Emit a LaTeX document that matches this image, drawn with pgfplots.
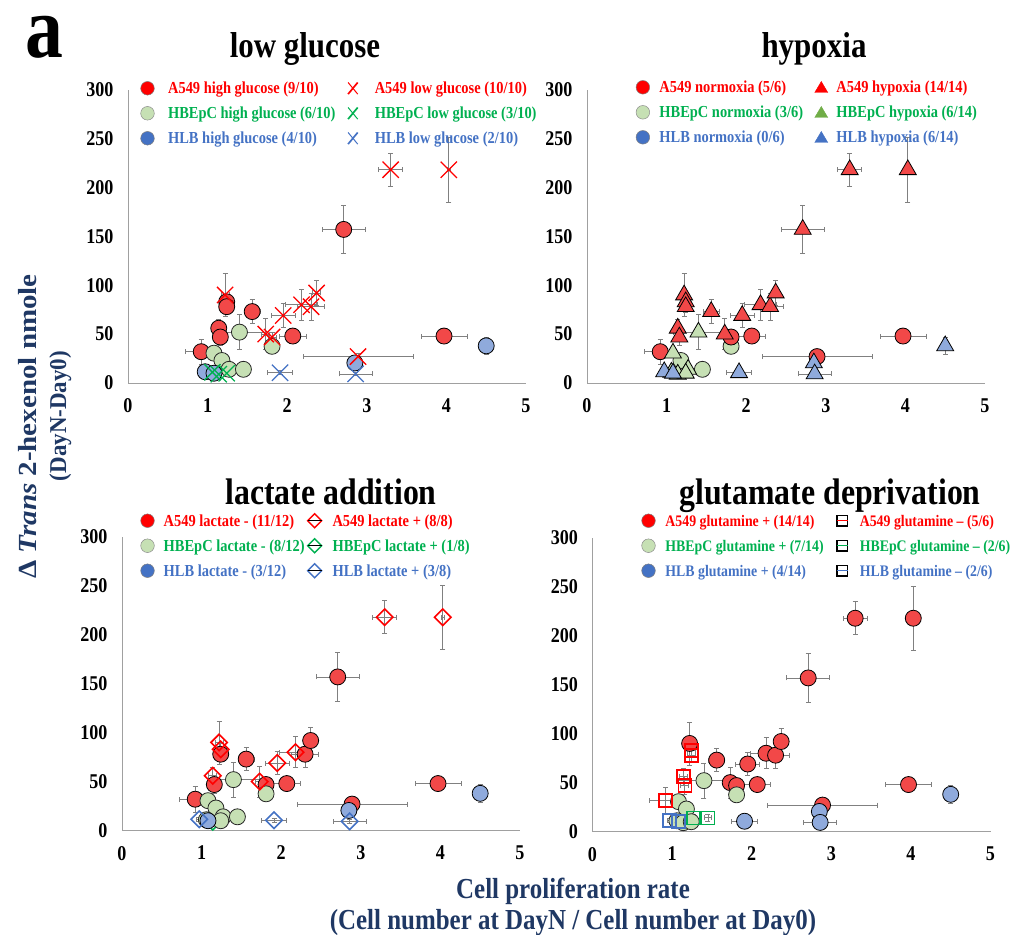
\documentclass[border=0pt]{standalone}
\usepackage{fontspec}
\setmainfont{Liberation Serif}[FakeStretch=0.86]
\newfontfamily\plainserif{Liberation Serif}
\usepackage{pgfplots}
\pgfplotsset{compat=1.18}
\definecolor{redT}{HTML}{FF0000}
\definecolor{greenT}{HTML}{00B050}
\definecolor{blueT}{HTML}{4472C4}
\definecolor{redF}{HTML}{F24848}
\definecolor{greenF}{HTML}{C6E0B4}
\definecolor{blueF}{HTML}{8FAADC}
\definecolor{greenL}{HTML}{70AD47}
\definecolor{navy}{HTML}{1F3864}
\definecolor{errgray}{HTML}{808080}
\definecolor{axgray}{HTML}{A0A0A0}

\pgfplotsset{
 panel/.style={width=398pt,height=293.5pt,scale only axis,xmin=0,xmax=5,ymin=0,ymax=300,
  axis lines=left, axis line style={-, draw=axgray, line width=0.9pt},
  xtick={0,1,2,3,4,5}, ytick={0,50,100,150,200,250,300}, major tick length=0pt,
  tick label style={font=\bfseries\fontsize{21}{21}\selectfont},
  xticklabel style={yshift=-12pt}, yticklabel style={xshift=-11pt},
  /pgf/number format/assume math mode=true,
  clip=false, legend columns=2, legend cell align=left,
  legend style={draw=none, fill=none, inner sep=0pt, outer sep=0pt, column sep=0pt, row sep=0pt,
    nodes={inner sep=0pt, outer sep=0pt, text height=17.8pt, text depth=7.2pt},
    font=\bfseries\fontsize{16.8}{16.8}\selectfont, anchor=north west}},
 eb/.style={error bars/x dir=both, error bars/x explicit, error bars/y dir=both, error bars/y explicit,
   error bars/error bar style={draw=errgray, line width=0.8pt},
   error bars/error mark options={rotate=90, mark size=2.5pt, line width=0.8pt, draw=errgray}},
 cA/.style={only marks, mark=*, mark size=8pt, mark options={fill=redF, draw=black, line width=0.8pt}, eb, forget plot},
 cH/.style={only marks, mark=*, mark size=8pt, mark options={fill=greenF, draw=black!85, line width=0.8pt}, eb, forget plot},
 cL/.style={only marks, mark=*, mark size=8pt, mark options={fill=blueF, draw=black, line width=0.8pt}, eb, forget plot},
 xA/.style={only marks, mark=x, mark size=11.5pt, mark options={draw=redT, line width=1.3pt}, eb, forget plot},
 xH/.style={only marks, mark=x, mark size=11.5pt, mark options={draw=greenT, line width=1.3pt}, eb, forget plot},
 xL/.style={only marks, mark=x, mark size=11.5pt, mark options={draw=blueT, line width=1.3pt}, eb, forget plot},
 tA/.style={only marks, mark=triangle*, mark size=9.8pt, mark options={fill=redF, draw=black, line width=0.8pt}, eb, forget plot},
 tH/.style={only marks, mark=triangle*, mark size=9.8pt, mark options={fill=greenF, draw=black, line width=0.8pt}, eb, forget plot},
 tL/.style={only marks, mark=triangle*, mark size=9.8pt, mark options={fill=blueF, draw=black, line width=0.8pt}, eb, forget plot},
 dA/.style={only marks, mark=square, mark size=5.8pt, mark options={rotate=45, draw=redT, line width=1.6pt}, eb, forget plot},
 dH/.style={only marks, mark=square, mark size=5.8pt, mark options={rotate=45, draw=greenT, line width=1.6pt}, eb, forget plot},
 dL/.style={only marks, mark=square, mark size=5.8pt, mark options={rotate=45, draw=blueT, line width=1.6pt}, eb, forget plot},
 sA/.style={only marks, mark=square, mark size=6.5pt, mark options={draw=redT, line width=1.6pt}, eb, forget plot},
 sH/.style={only marks, mark=square, mark size=6.5pt, mark options={draw=greenT, line width=1.6pt}, eb, forget plot},
 sL/.style={only marks, mark=square, mark size=6.5pt, mark options={draw=blueT, line width=1.6pt}, eb, forget plot},
 /pgfplots/table/tbl/.style={row sep=\\, x=x, y=y, x error=ex, y error=ey},
}

% legend images: colour, [edge], left extent, right extent
\newcommand{\LCirc}[4]{\addlegendimage{legend image code/.code={\path (-#3,0pt) (#4,0pt); \filldraw[fill=#1, draw=#2, line width=0.5pt] (0pt,0pt) circle (6.8pt);}}}
\newcommand{\LX}[3]{\addlegendimage{legend image code/.code={\path (-#2,0pt) (#3,0pt); \draw[#1, line width=1.7pt] (-4.8pt,-5.8pt) -- (4.8pt,5.8pt); \draw[#1, line width=1pt] (-4.8pt,5.8pt) -- (4.8pt,-5.8pt);}}}
\newcommand{\LTri}[3]{\addlegendimage{legend image code/.code={\path (-#2,0pt) (#3,0pt); \fill[#1] (0pt,5.8pt) -- (-6.5pt,-5.2pt) -- (6.5pt,-5.2pt) -- cycle;}}}
\newcommand{\LDia}[3]{\addlegendimage{legend image code/.code={\path (-#2,0pt) (#3,0pt); \draw[#1, line width=1.5pt] (0pt,7pt) -- (7pt,0pt) -- (0pt,-7pt) -- (-7pt,0pt) -- cycle; \draw[black, line width=0.8pt] (-7pt,0pt) -- (7pt,0pt);}}}
\newcommand{\LSq}[3]{\addlegendimage{legend image code/.code={\path (-#2,0pt) (#3,0pt); \draw[black, line width=1.3pt] (-5.2pt,-5.2pt) rectangle (5.2pt,5.2pt); \draw[#1, line width=1.3pt] (-5.2pt,0pt) -- (5.2pt,0pt);}}}

\begin{document}
\begin{tikzpicture}
\useasboundingbox (0pt,0pt) rectangle (1014pt,-934pt);

% ---------------- panel 1: low glucose
\begin{axis}[panel, at={(128pt,-383pt)}, anchor=south west, legend style={at={(0.0284,1.0467)}}]
\LCirc{redT}{black!50}{8pt}{20.4pt}\addlegendentry{\makebox[160pt][l]{\textcolor{redT}{A549 high glucose (9/10)}}}
\LX{redT}{24.6pt}{21.7pt}\addlegendentry{\textcolor{redT}{A549 low glucose (10/10)}}
\LCirc{greenF}{black!45}{8pt}{20.4pt}\addlegendentry{\makebox[160pt][l]{\textcolor{greenT}{HBEpC high glucose (6/10)}}}
\LX{greenT}{24.6pt}{21.7pt}\addlegendentry{\textcolor{greenT}{HBEpC low glucose (3/10)}}
\LCirc{blueT}{black!50}{8pt}{20.4pt}\addlegendentry{\makebox[160pt][l]{\textcolor{blueT}{HLB high glucose (4/10)}}}
\LX{blueT}{24.6pt}{21.7pt}\addlegendentry{\textcolor{blueT}{HLB low glucose (2/10)}}
\addplot[cA] table[tbl]{x y ex ey\\ 2.71 157 0.27 25\\ 1.24 83 0.05 6\\ 1.24 78 0.05 6\\ 1.56 73 0.10 12\\ 1.14 56 0.05 9\\ 1.16 47 0.05 9\\ 2.07 48 0.17 5\\ 3.97 48 0.29 2\\ 0.92 32 0.20 13\\};
\addplot[cH] table[tbl]{x y ex ey\\ 1.40 52 0.32 18\\ 1.81 37.5 0.04 4\\ 1.08 30.5 0.03 3\\ 1.18 23 0.03 3\\ 1.27 14 0.03 3\\ 1.45 14 0.03 3\\};
\addplot[cL] table[tbl]{x y ex ey\\ 0.97 11.5 0.03 2\\ 1.08 10 0.03 2\\ 2.85 20.5 0.04 3\\ 4.50 38 0.03 9\\};
\addplot[xA] table[tbl]{x y ex ey\\ 3.30 218 0.15 17\\ 4.03 218 0.02 33\\ 1.22 90 0.05 22\\ 1.95 69 0.15 12\\ 2.18 80 0.20 16\\ 2.30 78 0.17 14\\ 2.37 92 0.05 13\\ 1.73 50 0.05 16\\ 1.81 47 0.05 5\\ 2.89 27 0.69 3\\};
\addplot[xH] table[tbl]{x y ex ey\\ 1.06 11 0.03 3\\ 1.14 9 0.03 3\\ 1.24 10 0.03 3\\};
\addplot[xL] table[tbl]{x y ex ey\\ 1.91 10.5 0.16 2\\ 2.86 9.3 0.21 2\\};
\end{axis}

% ---------------- panel 2: hypoxia
\begin{axis}[panel, at={(587pt,-383pt)}, anchor=south west, legend style={at={(0.1198,1.0501)}}]
\LCirc{redT}{black!50}{8pt}{16.3pt}\addlegendentry{\makebox[140pt][l]{\textcolor{redT}{A549 normoxia (5/6)}}}
\LTri{redT}{21.7pt}{15pt}\addlegendentry{\textcolor{redT}{A549 hypoxia (14/14)}}
\LCirc{greenF}{black!45}{8pt}{16.3pt}\addlegendentry{\makebox[140pt][l]{\textcolor{greenT}{HBEpC normoxia (3/6)}}}
\LTri{greenL}{21.7pt}{15pt}\addlegendentry{\textcolor{greenT}{HBEpC hypoxia (6/14)}}
\LCirc{blueT}{black!50}{8pt}{16.3pt}\addlegendentry{\makebox[140pt][l]{\textcolor{blueT}{HLB normoxia (0/6)}}}
\LTri{blueT}{21.7pt}{15pt}\addlegendentry{\textcolor{blueT}{HLB hypoxia (6/14)}}
\addplot[cH] table[tbl]{x y ex ey\\ 1.81 37.5 0.04 4\\ 1.18 23 0.03 3\\ 1.45 14 0.03 3\\};
\addplot[cA] table[tbl]{x y ex ey\\ 1.81 47 0.05 5\\ 2.07 48 0.17 5\\ 3.97 48 0.29 2\\ 2.89 27 0.69 3\\ 0.92 32 0.20 13\\};
\addplot[tA] table[tbl]{x y ex ey\\ 3.30 218 0.15 17\\ 4.03 218 0.02 33\\ 2.71 157 0.27 25\\ 1.22 90 0.05 22\\ 1.24 83 0.05 6\\ 1.24 78 0.05 6\\ 1.56 73 0.10 12\\ 1.95 69 0.15 12\\ 2.18 80 0.20 16\\ 2.30 78 0.17 14\\ 2.37 92 0.05 13\\ 1.14 56 0.05 9\\ 1.16 47 0.05 9\\ 1.73 50 0.05 16\\};
\addplot[tH] table[tbl]{x y ex ey\\ 1.40 52 0.32 18\\ 1.08 30.5 0.03 3\\ 1.27 14 0.03 3\\ 1.06 11 0.03 3\\ 1.14 9 0.03 3\\ 1.24 10 0.03 3\\};
\addplot[tL] table[tbl]{x y ex ey\\ 0.97 11.5 0.03 2\\ 1.08 10 0.03 2\\ 1.91 10.5 0.16 2\\ 2.85 20.5 0.04 3\\ 2.86 9.3 0.21 2\\ 4.50 38 0.03 9\\};
\end{axis}

% ---------------- panel 3: lactate addition
\begin{axis}[panel, at={(122pt,-830.5pt)}, anchor=south west, legend style={at={(0.0435,1.0981)}}]
\LCirc{redT}{black!50}{8pt}{16pt}\addlegendentry{\makebox[135pt][l]{\textcolor{redT}{A549 lactate - (11/12)}}}
\LDia{redT}{15.7pt}{17.7pt}\addlegendentry{\textcolor{redT}{A549 lactate + (8/8)}}
\LCirc{greenF}{black!45}{8pt}{16pt}\addlegendentry{\makebox[135pt][l]{\textcolor{greenT}{HBEpC lactate - (8/12)}}}
\LDia{greenT}{15.7pt}{17.7pt}\addlegendentry{\textcolor{greenT}{HBEpC lactate + (1/8)}}
\LCirc{blueT}{black!50}{8pt}{16pt}\addlegendentry{\makebox[135pt][l]{\textcolor{blueT}{HLB lactate - (3/12)}}}
\LDia{blueT}{15.7pt}{17.7pt}\addlegendentry{\textcolor{blueT}{HLB lactate + (3/8)}}
\addplot[dH] table[tbl]{x y ex ey\\ 1.14 9 0.03 3\\};
\addplot[cA] table[tbl]{x y ex ey\\ 2.71 157 0.27 25\\ 1.24 78 0.05 6\\ 1.56 73 0.10 12\\ 2.30 78 0.17 14\\ 2.37 92 0.05 13\\ 1.16 47 0.05 9\\ 1.81 47 0.05 5\\ 2.07 48 0.17 5\\ 3.97 48 0.29 2\\ 2.89 27 0.69 3\\ 0.92 32 0.20 13\\};
\addplot[cH] table[tbl]{x y ex ey\\ 1.40 52 0.32 18\\ 1.81 37.5 0.04 4\\ 1.08 30.5 0.03 3\\ 1.18 23 0.03 3\\ 1.27 14 0.03 3\\ 1.45 14 0.03 3\\ 1.06 11 0.03 3\\ 1.24 10 0.03 3\\};
\addplot[cL] table[tbl]{x y ex ey\\ 1.08 10 0.03 2\\ 2.85 20.5 0.04 3\\ 4.50 38 0.03 9\\};
\addplot[dA] table[tbl]{x y ex ey\\ 3.30 218 0.15 17\\ 4.03 218 0.02 33\\ 1.22 90 0.05 22\\ 1.24 83 0.05 6\\ 1.95 69 0.15 12\\ 2.18 80 0.20 16\\ 1.14 56 0.05 9\\ 1.73 50 0.05 16\\};
\addplot[dL] table[tbl]{x y ex ey\\ 0.97 11.5 0.03 2\\ 1.91 10.5 0.16 2\\ 2.86 9.3 0.21 2\\};
\end{axis}

% ---------------- panel 4: glutamate deprivation
\begin{axis}[panel, at={(592.5pt,-831.5pt)}, anchor=south west, legend style={at={(0.1201,1.1015)}, font=\bfseries\fontsize{16.1}{16.1}\selectfont}]
\LCirc{redT}{black!50}{8pt}{16.7pt}\addlegendentry{\makebox[160pt][l]{\textcolor{redT}{A549 glutamine + (14/14)}}}
\LSq{redT}{16.7pt}{17.3pt}\addlegendentry{\textcolor{redT}{A549 glutamine – (5/6)}}
\LCirc{greenF}{black!45}{8pt}{16.7pt}\addlegendentry{\makebox[160pt][l]{\textcolor{greenT}{HBEpC glutamine + (7/14)}}}
\LSq{greenT}{16.7pt}{17.3pt}\addlegendentry{\textcolor{greenT}{HBEpC glutamine – (2/6)}}
\LCirc{blueT}{black!50}{8pt}{16.7pt}\addlegendentry{\makebox[160pt][l]{\textcolor{blueT}{HLB glutamine + (4/14)}}}
\LSq{blueT}{16.7pt}{17.3pt}\addlegendentry{\textcolor{blueT}{HLB glutamine – (2/6)}}
\addplot[cA] table[tbl]{x y ex ey\\ 3.30 218 0.15 17\\ 4.03 218 0.02 33\\ 2.71 157 0.27 25\\ 1.22 90 0.05 22\\ 1.56 73 0.10 12\\ 1.95 69 0.15 12\\ 2.18 80 0.20 16\\ 2.30 78 0.17 14\\ 2.37 92 0.05 13\\ 1.73 50 0.05 16\\ 1.81 47 0.05 5\\ 2.07 48 0.17 5\\ 3.97 48 0.29 2\\ 2.89 27 0.69 3\\};
\addplot[cH] table[tbl]{x y ex ey\\ 1.40 52 0.32 18\\ 1.81 37.5 0.04 4\\ 1.08 30.5 0.03 3\\ 1.18 23 0.03 3\\ 1.06 11 0.03 3\\ 1.14 9 0.03 3\\ 1.24 10 0.03 3\\};
\addplot[cL] table[tbl]{x y ex ey\\ 1.91 10.5 0.16 2\\ 2.85 20.5 0.04 3\\ 2.86 9.3 0.21 2\\ 4.50 38 0.03 9\\};
\addplot[sA] table[tbl]{x y ex ey\\ 1.24 83 0.05 6\\ 1.24 78 0.05 6\\ 1.14 56 0.05 9\\ 1.16 47 0.05 9\\ 0.92 32 0.20 13\\};
\addplot[sH] table[tbl]{x y ex ey\\ 1.27 14 0.04 4\\ 1.45 14 0.04 4\\};
\addplot[sL] table[tbl]{x y ex ey\\ 0.97 11.5 0.03 2\\ 1.08 10 0.03 2\\};
\end{axis}

% ---------------- titles and labels
\node[font=\bfseries\fontsize{88}{88}\selectfont, anchor=base, text height=44pt, text depth=0pt, inner sep=0pt] at (44pt,-57pt) {a};
\node[font=\bfseries\fontsize{36}{36}\selectfont, anchor=base, inner sep=0pt] at (305pt,-57pt) {low glucose};
\node[font=\bfseries\fontsize{36}{36}\selectfont, anchor=base, inner sep=0pt] at (814pt,-57pt) {hypoxia};
\node[font=\bfseries\fontsize{37}{37}\selectfont, anchor=base, inner sep=0pt] at (331pt,-504pt) {lactate addition};
\node[font=\bfseries\fontsize{37}{37}\selectfont, anchor=base, inner sep=0pt] at (830pt,-504pt) {glutamate deprivation};
\node[font=\bfseries\fontsize{29}{29}\selectfont, text=navy, anchor=base] at (573pt,-898pt) {Cell proliferation rate};
\node[font=\bfseries\fontsize{29}{29}\selectfont, text=navy, anchor=base] at (573pt,-929pt) {(Cell number at DayN / Cell number at Day0)};
\node[font=\plainserif\bfseries\fontsize{29}{29}\selectfont, text=navy, rotate=90, anchor=base] at (36pt,-426.5pt) {\scalebox{1}[0.9]{Δ \textit{Trans} 2-hexenol nmole}};
\node[font=\plainserif\bfseries\fontsize{23}{23}\selectfont, text=navy, rotate=90, anchor=base] at (66pt,-416pt) {\scalebox{1}[1.05]{(DayN-Day0)}};
\end{tikzpicture}
\end{document}
